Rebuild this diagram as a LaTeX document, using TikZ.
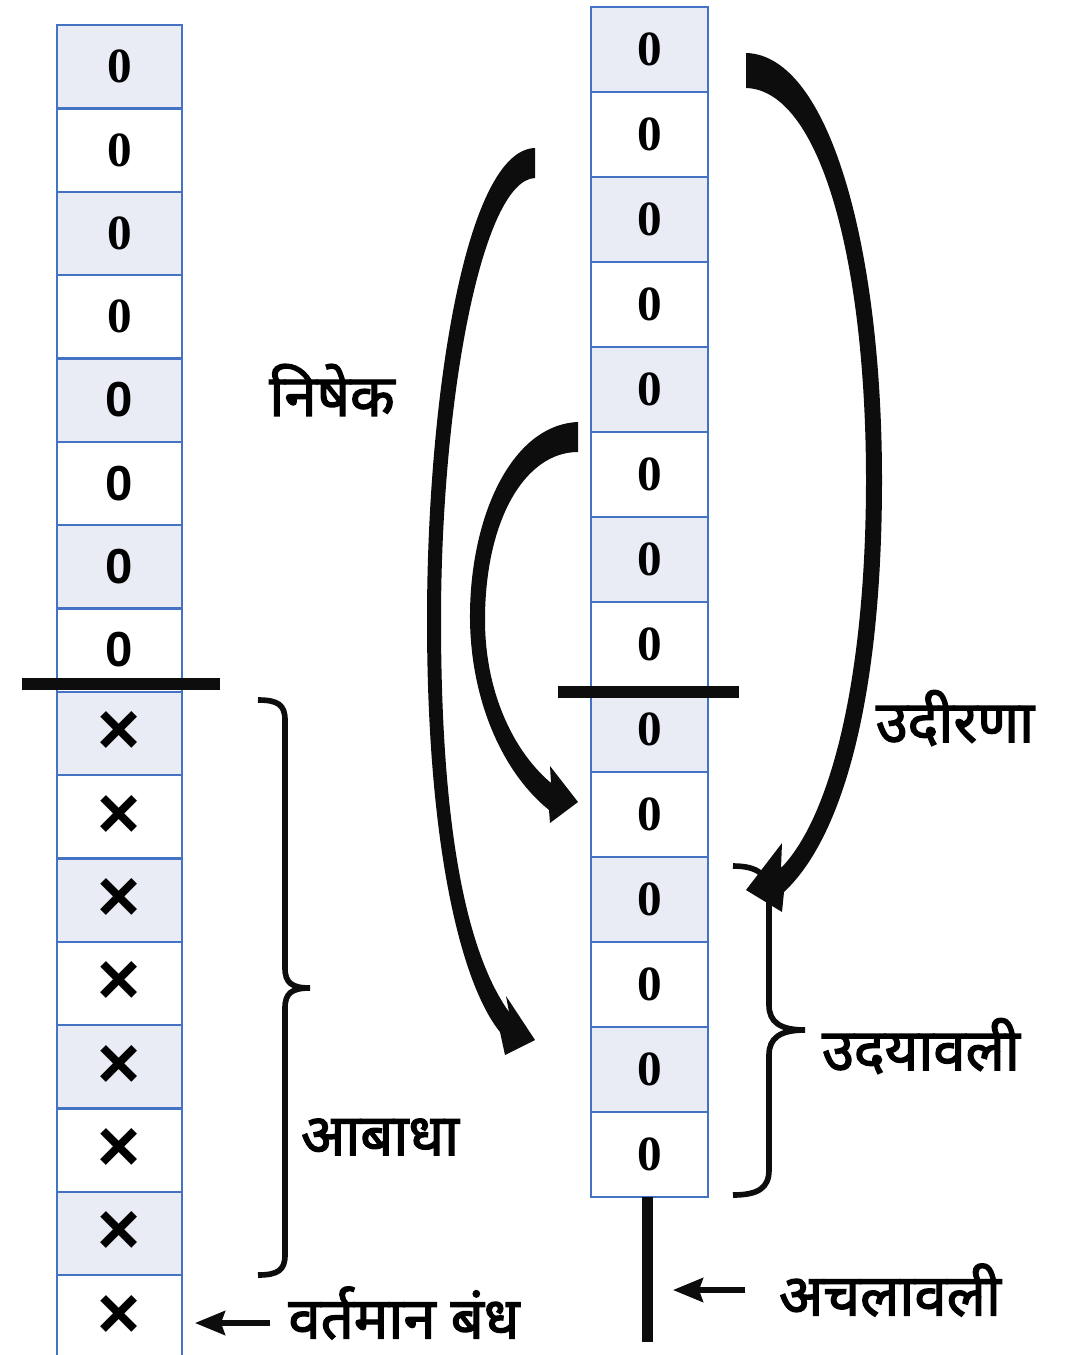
\documentclass[tikz,border=0pt]{standalone}
\usepackage{fontspec}
\setmainfont{Liberation Serif}
\newfontfamily\arial{Liberation Sans}
\newfontfamily\hindi[Script=Devanagari, FakeBold=2.2]{Noto Sans}
\usepackage{xcolor}
\usepackage{tikz}
\usetikzlibrary{arrows.meta, positioning}
\definecolor{cellblue}{HTML}{4472C4}
\definecolor{cellfill}{HTML}{E9EBF5}
\definecolor{ink}{HTML}{0D0D0D}
\tikzstyle{cell} = [rectangle, draw=cellblue, line width=1.3pt, outer sep=0pt, inner sep=0pt, minimum width=2.5cm, minimum height=1.667cm, font=\fontsize{28}{30}\selectfont\bfseries]
\tikzstyle{shaded} = [cell, fill=cellfill]
\tikzstyle{sans} = [font=\arial\fontsize{28}{30}\selectfont\bfseries]
\tikzstyle{cross} = [font=\arial\fontsize{42}{44}\selectfont\bfseries]
\tikzstyle{rcell} = [cell, minimum width=2.34cm, minimum height=1.7cm]
\tikzstyle{rshaded} = [rcell, fill=cellfill]
\tikzstyle{lbl} = [inner sep=2pt, font=\hindi\fontsize{33}{36}\selectfont]
\tikzstyle{bar} = [line width=0.24cm, ink]
\tikzstyle{brace} = [line width=3.2pt, ink]
\tikzstyle{pointer} = [-{Stealth[length=0.6cm, width=0.48cm, inset=0.08cm]}, line width=3pt, ink]

\begin{document}
\begin{tikzpicture}[x=0.02cm, y=-0.02cm]
                \useasboundingbox (0,0) rectangle (1066,1355);
                % left column
                \node[shaded] (l1) at (119.5,66.7) {0};
                \node[cell, below=0pt of l1] (l2) {0};
                \node[shaded, below=0pt of l2] (l3) {0};
                \node[cell, below=0pt of l3] (l4) {0};
                \node[shaded, sans, below=0pt of l4] (l5) {0};
                \node[cell, sans, below=0pt of l5] (l6) {0};
                \node[shaded, sans, below=0pt of l6] (l7) {0};
                \node[cell, sans, below=0pt of l7] (l8) {0};
                \node[shaded, cross, below=0pt of l8] (l9) {×};
                \node[cell, cross, below=0pt of l9] (l10) {×};
                \node[shaded, cross, below=0pt of l10] (l11) {×};
                \node[cell, cross, below=0pt of l11] (l12) {×};
                \node[shaded, cross, below=0pt of l12] (l13) {×};
                \node[cell, cross, below=0pt of l13] (l14) {×};
                \node[shaded, cross, below=0pt of l14] (l15) {×};
                \node[cell, cross, below=0pt of l15] (l16) {×};
                % right column
                \node[rshaded] (r1) at (649.5,49.5) {0};
                \node[rcell, below=0pt of r1] (r2) {0};
                \node[rshaded, below=0pt of r2] (r3) {0};
                \node[rcell, below=0pt of r3] (r4) {0};
                \node[rshaded, below=0pt of r4] (r5) {0};
                \node[rcell, below=0pt of r5] (r6) {0};
                \node[rshaded, below=0pt of r6] (r7) {0};
                \node[rcell, below=0pt of r7] (r8) {0};
                \node[rshaded, below=0pt of r8] (r9) {0};
                \node[rcell, below=0pt of r9] (r10) {0};
                \node[rshaded, below=0pt of r10] (r11) {0};
                \node[rcell, below=0pt of r11] (r12) {0};
                \node[rshaded, below=0pt of r12] (r13) {0};
                \node[rcell, below=0pt of r13] (r14) {0};
                % cut lines
                \draw[bar] (22,684) -- (220,684);
                \draw[bar] (558,692) -- (739,692);
                \coordinate (stemend) at (647,1342);
                \draw[line width=0.22cm, ink] (r14.south -| stemend) -- (stemend);
                % curved arrows
                \fill[ink] (535,148) .. controls (465,150) and (427,400) .. (427,620)
                    .. controls (427,850) and (462,985) .. (500,1032) -- (505,1055) -- (535,1040) -- (506,996)
                    -- (509,1012) .. controls (472,960) and (441,850) .. (441,620)
                    .. controls (441,400) and (482,180) .. (535,178) -- cycle;
                \fill[ink] (578,422) .. controls (510,425) and (469,520) .. (470,620)
                    .. controls (471,700) and (502,772) .. (549,810) -- (550,823) -- (578,802) -- (550,766)
                    -- (551,783) .. controls (512,750) and (485,690) .. (485,620)
                    .. controls (485,520) and (525,452) .. (578,452) -- cycle;
                \fill[ink] (746,53) .. controls (830,55) and (882,250) .. (882,480)
                    .. controls (882,700) and (842,838) .. (784,892) -- (782,912) -- (746,890) -- (782,843)
                    -- (781,868) .. controls (830,818) and (866,680) .. (866,480)
                    .. controls (866,260) and (820,90) .. (746,88) -- cycle;
                % braces
                \draw[brace] (258,700) .. controls (278,700) and (285,705) .. (285,720) -- (285,968)
                    .. controls (285,983) and (292,988) .. (310,988) .. controls (292,988) and (285,993) .. (285,1008)
                    -- (285,1255) .. controls (285,1270) and (278,1275) .. (258,1275);
                \draw[brace] (733,866) .. controls (758,866) and (769,875) .. (769,895) -- (769,1005)
                    .. controls (769,1022) and (780,1030) .. (805,1030) .. controls (780,1030) and (769,1038) .. (769,1055)
                    -- (769,1170) .. controls (769,1188) and (758,1195) .. (733,1195);
                % labels
                \node[lbl] (nishek) at (332,390) {निषेक};
                \node[lbl] (udirana) at (955,718) {उदीरणा};
                \node[lbl] (udayavali) at (921,1046) {उदयावली};
                \node[lbl] (abadha) at (380,1137) {आबाधा};
                \node[lbl] (bandh) at (404,1313) {वर्तमान बंध};
                \node[lbl] (achal) at (890,1290) {अचलावली};
                \coordinate (bandhtip) at (195,1323);
                \coordinate (achaltip) at (673,1290);
                \draw[pointer, shorten <=0.3cm] (bandh.west |- bandhtip) -- (bandhtip);
                \draw[pointer, shorten <=0.6cm] (achal.west |- achaltip) -- (achaltip);
            \end{tikzpicture}
\end{document}
